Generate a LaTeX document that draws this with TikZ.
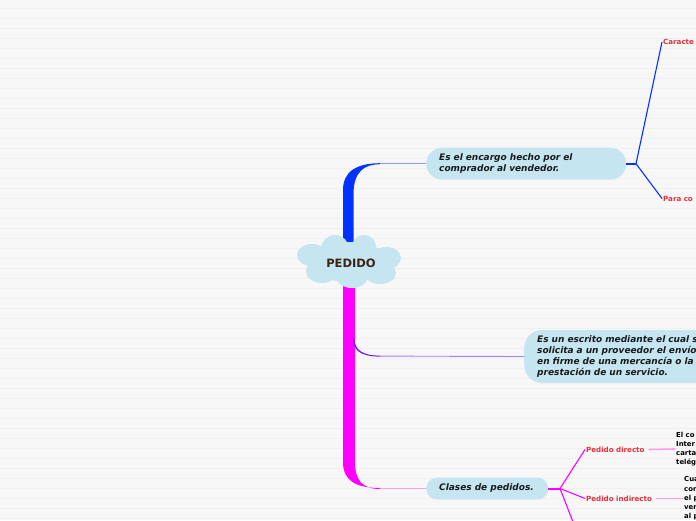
\documentclass[tikz,border=0pt]{standalone}
\usepackage{fontspec}
\setmainfont{DejaVu Sans}
\definecolor{bg}{HTML}{F7F7F7}
\definecolor{stripe}{HTML}{F0F0F0}
\definecolor{bubble}{HTML}{C5E5F0}
\definecolor{bblue}{HTML}{0033FF}
\definecolor{lblue}{HTML}{8C9CFF}
\definecolor{mag}{HTML}{FF00FF}
\definecolor{lmag}{HTML}{FF9CF0}
\definecolor{purp}{HTML}{6A1AFF}
\definecolor{lpurp}{HTML}{A57BFF}
\definecolor{lblred}{HTML}{E8303A}
\definecolor{txt}{HTML}{1A1A1A}
\definecolor{ctr}{HTML}{3A2418}
\tikzset{
  topic/.style={fill=bubble, rounded corners=#1, draw=none, align=left, anchor=west,
    font=\fontsize{9}{11.3}\selectfont\bfseries\itshape, text=txt, inner xsep=13pt, inner ysep=0pt},
  sublabel/.style={anchor=west, font=\fontsize{7.1}{8.5}\selectfont\bfseries, text=lblred, inner sep=1pt},
  leaftext/.style={anchor=west, align=left, font=\fontsize{6.9}{9.2}\selectfont\bfseries, text=black, inner sep=1pt},
}
\begin{document}
\begin{tikzpicture}[x=1pt,y=-1pt]
\clip (0,0) rectangle (696,520);
\fill[bg] (0,0) rectangle (696,520);
\foreach \yy in {8,18,...,518} \draw[stripe, line width=0.6pt] (0,\yy) -- (696,\yy);

% trunk shapes
\fill[bblue] (343,245) -- (343,190) .. controls (343,172) and (356,163.2) .. (380,163.2)
   -- (380,164.2) .. controls (364,164.2) and (353.5,172) .. (353.5,194) -- (353.5,245) -- cycle;
\fill[mag] (343,280) -- (343,462) .. controls (343,480) and (355,488) .. (380,488)
   -- (380,489) .. controls (362,489) and (355,480) .. (355,462) -- (355,280) -- cycle;
\fill[purp] (354,338) .. controls (355,350) and (362,355.6) .. (380,355.6)
   -- (380,356.6) .. controls (360,356.6) and (353,350) .. (353,338) -- cycle;

% central cloud
\fill[bubble] (349,262) ellipse [x radius=40pt, y radius=20pt];
\fill[bubble] (335,249) circle [radius=14pt];
\fill[bubble] (364,247) circle [radius=12pt];
\fill[bubble] (312,255) ellipse [x radius=15pt, y radius=11pt];
\fill[bubble] (386,258) ellipse [x radius=15pt, y radius=11pt];
\fill[bubble] (322,271) ellipse [x radius=16pt, y radius=12pt];
\fill[bubble] (352,276) ellipse [x radius=16pt, y radius=12pt];
\fill[bubble] (380,273) ellipse [x radius=16pt, y radius=11pt];
\node[inner sep=0pt, minimum width=104pt, minimum height=54pt,
  font=\fontsize{11.5}{13}\selectfont\bfseries, text=ctr] (root) at (351,263) {PEDIDO};

% topics
\node[topic=16pt, minimum width=200pt, minimum height=32pt, text width=174pt] (t1) at (426,163.7)
  {Es el encargo hecho por el\\comprador al vendedor.};
\node[topic=18pt, minimum width=214pt, minimum height=53pt, text width=188pt] (t2) at (524,356.5)
  {Es un escrito mediante el cual se\\solicita a un proveedor el envío\\en firme de una mercancía o la\\prestación de un servicio.};
\node[topic=11pt, minimum width=122pt, minimum height=22pt, text width=96pt] (t3) at (426,488.5)
  {Clases de pedidos.};

\coordinate (s1) at (380,163.7);
\coordinate (s2) at (380,356.1);
\coordinate (s3) at (380,488.5);
\draw[lblue, line width=0.9pt] (s1) -- (t1.west);
\draw[lpurp, line width=0.9pt] (s2) -- (t2.west);
\draw[lmag, line width=0.9pt] (s3) -- (t3.west);

% blue branch
\coordinate (j1) at (636,163.7);
\node[sublabel] (c1) at (662,42) {Caracte};
\node[sublabel] (c2) at (662,198.5) {Para co};
\draw[bblue, line width=2pt] (t1.east) -- (j1);
\draw[bblue, line width=1.1pt] (j1) -- (c1.west);
\draw[bblue, line width=1.1pt] (j1) -- (c2.west);

% magenta branch
\coordinate (j3) at (560,488.5);
\node[sublabel] (d1) at (585,449.5) {Pedido directo};
\node[sublabel] (d2) at (585,498.5) {Pedido indirecto};
\coordinate (d3) at (580,540);
\draw[mag, line width=2pt] (t3.east) -- (j3);
\draw[mag, line width=1.1pt] (j3) -- (d1.west);
\draw[mag, line width=1.1pt] (j3) -- (d2.west);
\draw[mag, line width=1.1pt] (j3) -- (d3);

\node[leaftext] (e1) at (675,449) {El co\\Inter\\carta\\telég};
\node[leaftext] (e2) at (683,498.5) {Cua\\con\\el p\\ver\\al p};
\draw[lmag, line width=1.6pt] ([xshift=3pt]d1.east) -- (e1.west);
\draw[lmag, line width=1.6pt] ([xshift=3pt]d2.east) -- (e2.west);
\end{tikzpicture}
\end{document}
